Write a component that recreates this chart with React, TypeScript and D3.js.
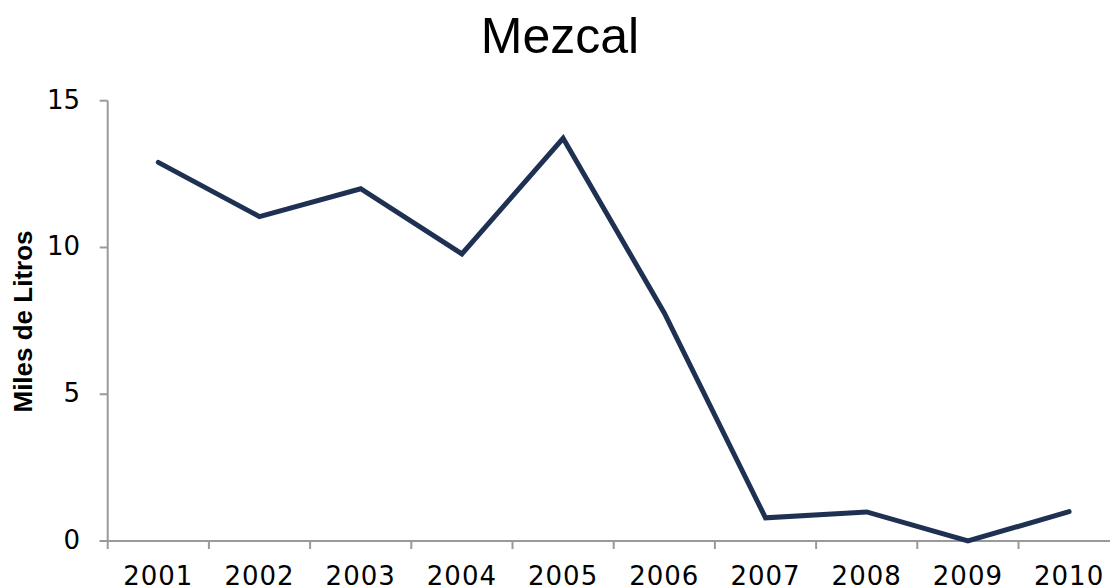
import React from "react";
import * as d3 from "d3";

const years = ["2001", "2002", "2003", "2004", "2005", "2006", "2007", "2008", "2009", "2010"];
const values = [12.9, 11.05, 12.0, 9.78, 13.72, 7.77, 0.79, 0.99, 0, 1.0];
const yTicks = [0, 5, 10, 15];

const W = 1110;
const H = 586;
const left = 107.7;
const bandW = 101.2;
const top = 100.7;
const bottom = 541;

export default function App() {
  const x = d3.scaleBand<string>().domain(years).range([left, left + bandW * years.length]).padding(0);
  const y = d3.scaleLinear().domain([0, 15]).range([bottom, top]);
  const line = d3
    .line<number>()
    .x((_, i) => (x(years[i]) as number) + x.bandwidth() / 2)
    .y((d) => y(d));
  const font = "'Liberation Sans', Arial, sans-serif";
  const tickFont = "'DejaVu Sans', sans-serif";
  const axisColor = "#9a9a9a";
  const boundaries = d3.range(years.length + 1).map((i) => left + i * x.bandwidth());
  return (
    <svg width={W} height={H} style={{ position: "absolute", left: 0, top: 0, background: "#fff" }}>
      <text x={560} y={53} textAnchor="middle" fontFamily={font} fontSize={50} fill="#000">
        Mezcal
      </text>
      {/* y axis */}
      <line x1={left} x2={left} y1={top} y2={bottom} stroke={axisColor} strokeWidth={2} />
      {yTicks.map((t) => (
        <g key={t}>
          <line x1={left - 8} x2={left} y1={y(t)} y2={y(t)} stroke={axisColor} strokeWidth={2} />
          <text x={80} y={y(t) + 8} textAnchor="end" fontFamily={tickFont} fontSize={26} fill="#000">
            {t}
          </text>
        </g>
      ))}
      {/* x axis */}
      <line x1={left - 8} x2={W} y1={bottom} y2={bottom} stroke={axisColor} strokeWidth={2} />
      {boundaries.map((b, i) => (
        <line key={i} x1={b} x2={b} y1={bottom} y2={bottom + 8} stroke={axisColor} strokeWidth={2} />
      ))}
      {years.map((yr) => (
        <text
          key={yr}
          x={(x(yr) as number) + x.bandwidth() / 2}
          y={585}
          textAnchor="middle"
          fontFamily={tickFont}
          fontSize={26}
          letterSpacing={1}
          fill="#000"
        >
          {yr}
        </text>
      ))}
      <text
        transform={`translate(32, 321.5) rotate(-90)`}
        textAnchor="middle"
        fontFamily={font}
        fontSize={26}
        fontWeight="bold"
        fill="#000"
      >
        Miles de Litros
      </text>
      <path
        d={line(values) || ""}
        fill="none"
        stroke="#1f3152"
        strokeWidth={5}
        strokeLinejoin="miter"
        strokeLinecap="round"
      />
    </svg>
  );
}
